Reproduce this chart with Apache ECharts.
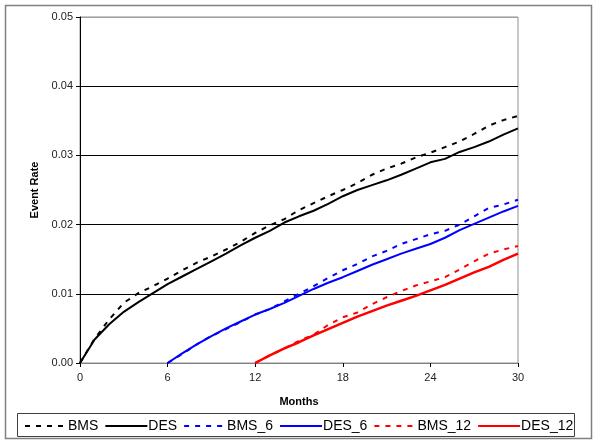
<!DOCTYPE html>
<html>
<head>
<meta charset="utf-8">
<script src="https://cdn.jsdelivr.net/npm/echarts@6/dist/echarts.min.js"></script>
<style>
html,body{margin:0;padding:0;background:#fff;}
#chart{width:600px;height:445px;}
</style>
</head>
<body>
<div id="chart"></div>
<script>
// ---- data ----
const monthsFull = [0,1,2,3,4,5,6,7,8,9,10,11,12,13,14,15,16,17,18,19,20,21,22,23,24,25,26,27,28,29,30];
const months6 = [6,7,8,9,10,11,12,13,14,15,16,17,18,19,20,21,22,23,24,25,26,27,28,29,30];
const months12 = [12,13,14,15,16,17,18,19,20,21,22,23,24,25,26,27,28,29,30];

const BMS = [0,0.0035,0.0063,0.0087,0.0101,0.0111,0.0122,0.0134,0.0145,0.0154,0.0164,0.0175,0.0188,0.0199,0.0208,0.0221,0.0231,0.0241,0.0250,0.0260,0.0272,0.0281,0.0288,0.0297,0.0304,0.0312,0.0320,0.0331,0.0343,0.0351,0.0357];
const DES = [0,0.0034,0.0056,0.0074,0.0088,0.0101,0.0114,0.0125,0.0136,0.0147,0.0158,0.0170,0.0181,0.0191,0.0203,0.0212,0.0220,0.0230,0.0241,0.0250,0.0257,0.0264,0.0272,0.0281,0.0290,0.0295,0.0305,0.0312,0.0320,0.0330,0.0339];
const BMS_6 = [0,0.0013,0.0027,0.0039,0.0049,0.0059,0.0070,0.0078,0.0089,0.0100,0.0111,0.0123,0.0134,0.0143,0.0154,0.0162,0.0172,0.0179,0.0186,0.0191,0.0200,0.0212,0.0224,0.0229,0.0236];
const DES_6 = [0,0.0014,0.0027,0.0039,0.0050,0.0060,0.0070,0.0078,0.0087,0.0097,0.0107,0.0116,0.0124,0.0133,0.0142,0.0150,0.0158,0.0165,0.0172,0.0181,0.0192,0.0201,0.0210,0.0219,0.0227];
const BMS_12 = [0,0.0011,0.0021,0.0032,0.0041,0.0055,0.0066,0.0073,0.0085,0.0095,0.0104,0.0112,0.0118,0.0124,0.0135,0.0147,0.0158,0.0164,0.0169];
const DES_12 = [0,0.0011,0.0021,0.0030,0.0040,0.0049,0.0058,0.0067,0.0075,0.0083,0.0090,0.0097,0.0105,0.0113,0.0122,0.0131,0.0139,0.0149,0.0158];

const xTicks = [0,6,12,18,24,30];
const yTicks = [0,0.01,0.02,0.03,0.04,0.05];

// ---- chart ----
function pairs(xs, ys){ return xs.map((x,i)=>[x, ys[i]]); }
const FONT = '"Liberation Sans", Arial, sans-serif';

function mk(name, xs, ys, color, dashed, width){
  return {
    name: name, type: 'line', data: pairs(xs, ys),
    symbol: 'none', showSymbol: false, smooth: false,
    lineStyle: { color: color, width: width, type: dashed ? [5,6] : 'solid' },
    itemStyle: { color: color },
    animation: false
  };
}

const chart = echarts.init(document.getElementById('chart'), null, {renderer:'canvas'});
chart.setOption({
  backgroundColor: '#fff',
  animation: false,
  grid: { left: 80, right: 82, top: 17, bottom: 82, show: true, borderColor: '#909090', borderWidth: 1, backgroundColor: 'transparent' },
  xAxis: {
    type: 'value', min: 0, max: 30, interval: 6,
    name: 'Months', nameLocation: 'middle', nameGap: 33,
    nameTextStyle: { fontFamily: FONT, fontSize: 11, fontWeight: 'bold', color: '#000' },
    axisLine: { show: true, lineStyle: { color: '#808080', width: 1 } },
    axisTick: { show: true, length: 4, lineStyle: { color: '#000' } },
    axisLabel: { fontFamily: FONT, fontSize: 11, color: '#222', margin: 9,
      formatter: v => xTicks.includes(v) ? String(v) : '' },
    splitLine: { show: false }
  },
  yAxis: {
    type: 'value', min: 0, max: 0.05, interval: 0.01,
    name: 'Event Rate', nameLocation: 'middle', nameGap: 35,
    nameTextStyle: { fontFamily: FONT, fontSize: 11, fontWeight: 'bold', color: '#000' },
    axisLine: { show: true, lineStyle: { color: '#000', width: 1 } },
    axisTick: { show: true, length: 4, lineStyle: { color: '#000' } },
    axisLabel: { fontFamily: FONT, fontSize: 11, color: '#222', margin: 7,
      formatter: v => { const t = yTicks.find(k => Math.abs(k - v) < 1e-9); return t === undefined ? '' : t.toFixed(2); } },
    splitLine: { show: true, lineStyle: { color: ['#808080','#000','#000','#000','#000','#a0a0a0'], width: 1 } }
  },
  legend: {
    left: 19, top: 414, itemWidth: 42, itemHeight: 14, itemGap: 6,
    itemStyle: { color: 'rgba(0,0,0,0)', borderWidth: 0, borderColor: 'rgba(0,0,0,0)' },
    textStyle: { fontFamily: FONT, fontSize: 14, color: '#000', padding: [0,0,0,-4] },
    data: ['BMS','DES','BMS_6','DES_6','BMS_12','DES_12']
  },
  graphic: [
    { type: 'rect', shape: { x: 5.5, y: 5.5, width: 586, height: 433 }, style: { fill: 'none', stroke: '#808080', lineWidth: 1.5 }, silent: true, z: -1 },
    { type: 'rect', shape: { x: 17.5, y: 413.5, width: 557, height: 23 }, style: { fill: 'none', stroke: '#404040', lineWidth: 1 }, silent: true, z: -1 }
  ],
  series: [
    mk('BMS', monthsFull, BMS, '#000000', true, 2),
    mk('DES', monthsFull, DES, '#000000', false, 2),
    mk('BMS_6', months6, BMS_6, '#0000ff', true, 2),
    mk('DES_6', months6, DES_6, '#0000ff', false, 2),
    mk('BMS_12', months12, BMS_12, '#ff0000', true, 2),
    mk('DES_12', months12, DES_12, '#ff0000', false, 2.5)
  ]
});
</script>
</body>
</html>
